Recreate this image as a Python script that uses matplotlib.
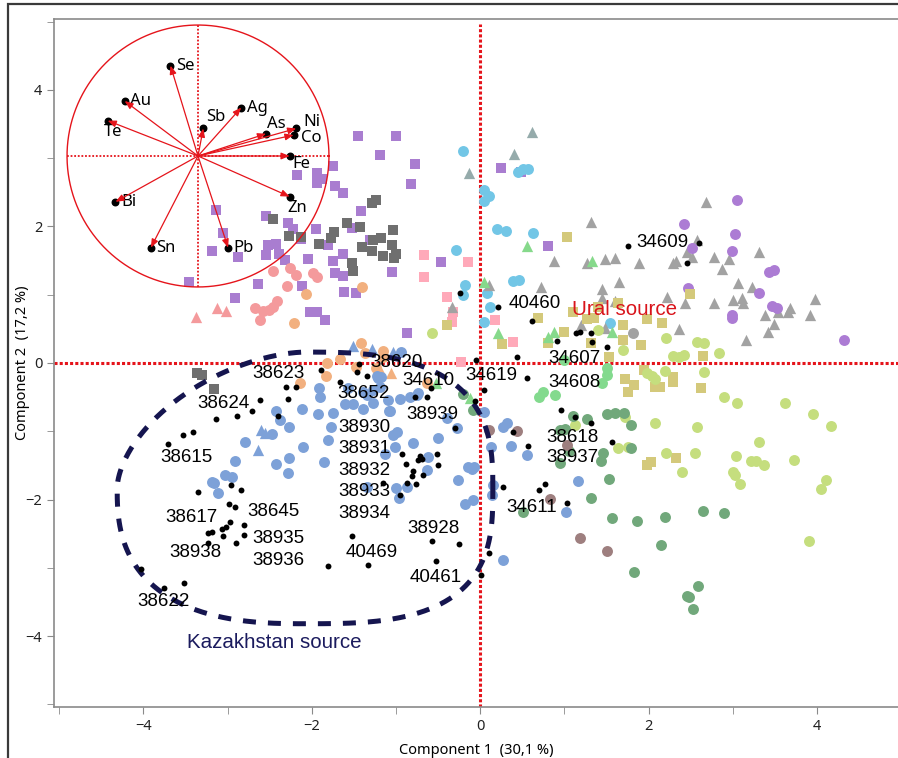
import numpy as np
import matplotlib.pyplot as plt
from matplotlib.patches import Rectangle

plt.rcParams["font.family"] = ["Liberation Sans", "DejaVu Sans"]

# Scores (Component 1, Component 2) par groupe de gisements
purple_sq_x = [-1.45, -1.00, -1.19, -0.78, -0.82, -1.75, -2.17, -1.94, -1.94, -1.88, -1.72, -1.63, -1.41,
               -3.14, -2.54, -2.28, -2.22, -1.95, -1.52, -3.05, -2.13, -2.52, -2.42, -2.39, -2.54, -2.87,
               -3.19, -1.81, -1.63, -1.31, -2.32, -2.04, -1.75, -1.72, -1.63, -1.05, -0.46, -2.64, -2.11,
               -1.62, -1.48, -3.46, -2.91, -2.02, -1.94, -1.84, -0.87, 0.25, 0.49, 0.80]
purple_sq_y = [3.33, 3.33, 3.05, 2.92, 2.62, 2.89, 2.76, 2.79, 2.64, 2.70, 2.60, 2.49, 2.23,
               2.24, 2.16, 2.05, 1.96, 1.96, 1.98, 1.91, 1.82, 1.73, 1.74, 1.60, 1.58, 1.55,
               1.64, 1.73, 1.60, 1.80, 1.51, 1.52, 1.50, 1.32, 1.28, 1.33, 1.48, 1.16, 1.13,
               1.04, 1.03, 1.19, 0.95, 0.75, 0.75, 0.63, 0.44, 2.86, 2.80, 1.72]

grey_sq_x = [-2.46, -2.27, -2.13, -1.91, -1.77, -1.73, -1.58, -1.43, -1.28, -1.24, -1.40, -1.27,
             -1.18, -1.28, -1.15, -1.05, -1.03, -1.00, -1.02, -1.52, -1.51, -3.36, -3.30, -3.16]
grey_sq_y = [2.11, 1.86, 1.85, 1.74, 1.83, 1.92, 2.05, 1.99, 2.35, 2.39, 1.70, 1.80,
             1.83, 1.64, 1.57, 1.73, 1.95, 1.60, 1.54, 1.47, 1.35, -0.15, -0.18, -0.38]

salmon_x = [-2.46, -2.26, -2.19, -2.29, -1.98, -1.94, -2.67, -2.58, -2.51, -2.46, -2.41, -2.62]
salmon_y = [1.35, 1.39, 1.29, 1.13, 1.32, 1.26, 0.81, 0.76, 0.78, 0.82, 0.91, 0.63]

salmon_tri_x = [-3.37, -3.12, -3.02]
salmon_tri_y = [0.67, 0.81, 0.76]

orange_x = [-2.07, -1.40, -2.21, -1.41, -1.37, -1.16, -1.15, -1.67, -1.82, -1.83, -1.48, -2.14, -0.63, -1.24]
orange_y = [1.01, 1.11, 0.59, 0.29, 0.15, 0.18, 0.09, 0.06, 0.00, -0.19, -0.06, -0.29, -0.29, -0.07]

orange_tri_x = [-1.06, -1.19]
orange_tri_y = [-0.15, -0.10]

pink_sq_x = [-0.67, -0.67, -0.15, -0.39, -0.32, -0.33, 0.18, 0.39, -0.23]
pink_sq_y = [1.58, 1.26, 1.48, 0.97, 0.75, 0.60, 0.63, 0.31, 0.01]

sky_x = [-0.20, 0.05, 0.11, 0.04, 0.20, 0.31, 0.63, 0.51, 0.57, 0.45, -0.29, -0.18, -0.20,
         0.08, 0.39, 0.46, 0.12, 0.04, 1.54]
sky_y = [3.11, 2.54, 2.45, 2.38, 1.96, 1.94, 1.91, 2.84, 2.84, 2.80, 1.66, 1.14, 1.00,
         1.03, 1.20, 1.22, 0.82, 0.60, 0.59]

teal_tri_x = [0.61, 0.40, -0.13]
teal_tri_y = [3.39, 3.06, 2.79]

blue_x = [-0.94, -1.18, -1.22, -1.39, -1.91, -1.90, -0.75, -2.11, -1.92, -1.75, -1.60, -1.51, -1.39,
          -1.27, -1.09, -1.08, -0.95, -1.34, -1.21, -1.19, -1.27, -1.57, -2.42, -2.38, -2.27, -1.77,
          -1.81, -2.47, -2.79, -2.10, -2.27, -2.42, -2.28, -1.86, -2.91, -3.03, -2.95, -3.19, -3.16,
          -3.11, -1.07, -1.03, -1.01, -1.13, -1.34, -1.00, -0.97, -0.99, -0.80, -0.62, -0.63, -0.87,
          -0.50, -0.39, -0.27, -0.14, -0.10, -0.07, -0.26, -0.18, -0.08, 0.04, 0.13, 0.15, 0.14,
          0.27, 0.27, 0.32, 0.36, 0.56, 1.16, 1.02, -0.74, -0.83]
blue_y = [0.16, -0.21, -0.19, -0.43, -0.37, -0.50, -0.47, -0.67, -0.75, -0.73, -0.60, -0.60, -0.67,
          -0.59, -0.54, -0.70, -0.53, -0.47, -0.22, -0.35, -0.40, -0.37, -0.70, -0.84, -0.94, -0.94,
          -1.13, -1.04, -1.16, -1.23, -1.39, -1.48, -1.61, -1.45, -1.44, -1.64, -1.67, -1.74, -1.76,
          -1.91, -0.70, -1.06, -1.23, -1.33, -1.82, -1.83, -1.98, -1.01, -1.17, -1.38, -1.57, -1.82,
          -1.10, -0.81, -0.95, -1.52, -1.55, -1.52, -1.72, -2.07, -2.01, -0.72, -1.23, -1.79, -1.94,
          -2.89, -0.94, -0.88, -1.22, -1.35, -1.73, -2.18, -0.44, -0.50]

blue_tri_x = [-1.51, -1.28, -1.03, -2.60, -2.55, -2.64]
blue_tri_y = [0.25, 0.21, 0.16, -0.98, -1.03, -1.28]

green_tri_x = [0.55, 1.33, 0.04, 0.21, 0.81, 0.88, 1.57, -0.53, -0.12]
green_tri_y = [1.72, 1.50, 1.19, 0.44, 0.38, 0.45, 0.45, -0.29, -0.51]

mint_x = [1.51, 1.51, 1.45, 0.75, 0.70, 0.89, 0.99]
mint_y = [-0.07, -0.18, -0.29, -0.43, -0.50, -0.47, 0.04]

grey_tri_x = [2.68, 1.32, 0.88, 1.27, 1.48, 1.60, 1.89, 2.29, 2.33, 2.45, 2.57, 2.51, 2.77, 2.95,
              2.87, 3.31, 3.06, 3.23, 0.72, 0.10, 1.45, 1.65, 1.45, 1.60, 2.22, 2.43, 2.77, 3.00,
              3.11, 3.12, 3.38, 3.49, 3.54, 3.65, 3.68, 3.97, 3.91, 3.42, 3.15, 2.36, 1.48, 1.20, -0.34]
grey_tri_y = [2.36, 2.07, 1.50, 1.47, 1.52, 1.54, 1.47, 1.47, 1.50, 1.63, 1.80, 1.55, 1.55, 1.52,
              1.38, 1.63, 1.17, 1.11, 1.11, 1.14, 1.09, 1.19, 0.95, 0.91, 0.97, 0.88, 0.88, 0.92,
              0.95, 0.88, 0.70, 0.57, 0.75, 0.75, 0.81, 0.94, 0.70, 0.45, 0.34, 0.50, 0.51, 0.56, 0.82]

violet_x = [3.05, 2.42, 3.02, 2.99, 2.52, 3.43, 3.49, 3.31, 2.47, 3.46, 3.52, 2.99, 2.99, 4.32]
violet_y = [2.39, 2.04, 1.89, 1.64, 1.69, 1.33, 1.36, 1.03, 1.10, 0.84, 0.81, 0.70, 0.66, 0.34]

khaki_x = [1.03, 0.69, -0.40, 0.26, 0.81, 0.99, 1.10, 1.27, 1.35, 1.32, 1.53, 1.63, 1.69, 1.69,
           1.91, 1.98, 2.16, 2.49, 2.64, 1.72, 1.83, 1.76, 1.94, 2.07, 2.14, 2.29, 2.29, 2.62,
           1.98, 2.03, 2.33, 1.40]
khaki_y = [1.85, 0.66, 0.56, 0.28, 0.29, 0.45, 0.75, 0.65, 0.66, 0.29, 0.09, 0.88, 0.56, 0.34,
           0.26, 0.65, 0.59, 1.01, 0.10, -0.23, -0.32, -0.43, -0.10, -0.35, -0.35, -0.21, -0.28, -0.37,
           -1.50, -1.45, -1.39, 0.82]

lime_x = [1.40, 2.21, 2.57, 2.66, 2.84, 2.29, 2.36, 2.42, 1.69, 1.98, 2.19, 2.07, 2.66, 2.04,
          2.89, 3.05, 3.62, 3.95, 4.16, 1.72, 2.07, 2.57, 3.31, 1.64, 1.75, 2.20, 2.55, 3.04,
          3.22, 3.27, 3.37, 3.73, 2.39, 3.00, 3.02, 3.09, 4.11, 4.04, 3.90, 1.13, -0.57]
lime_y = [0.48, 0.37, 0.31, 0.29, 0.15, 0.10, 0.09, 0.12, 0.19, -0.15, -0.12, -0.23, -0.13, -0.19,
          -0.50, -0.59, -0.59, -0.75, -0.92, -0.79, -0.88, -0.94, -1.16, -1.25, -1.23, -1.32, -1.32, -1.36,
          -1.44, -1.44, -1.50, -1.42, -1.60, -1.60, -1.64, -1.77, -1.72, -1.85, -2.61, -0.91, 0.44]

forest_x = [-0.20, -0.08, 0.95, 1.01, 1.06, 0.95, 1.10, 1.27, 1.50, 1.60, 1.71, 1.79, 1.79, 1.46,
            1.43, 1.53, 1.31, 1.57, 1.86, 2.19, 2.64, 2.90, 2.15, 1.83, 2.58, 2.45, 2.48, 2.53, 0.51]
forest_y = [-0.45, -0.69, -0.98, -0.97, -1.29, -1.47, -0.78, -0.82, -0.75, -0.73, -0.73, -0.91, -1.25, -1.32,
            -1.44, -1.70, -1.98, -2.27, -2.32, -2.26, -2.17, -2.20, -2.67, -3.06, -3.27, -3.42, -3.43, -3.61, -2.18]

brown_x = [0.10, 0.44, 1.03, 0.83, 1.18, 1.51]
brown_y = [-0.98, -1.00, -1.20, -1.99, -2.57, -2.76]

silver_x = [1.81]
silver_y = [0.44]

# Echantillons étudiés (points noirs)
sample_x = [-1.89, -2.30, -2.19, -1.66, -1.44, -1.46, -1.34, -2.28, -2.62, -2.71, -2.40, -2.89, -3.14,
            -3.41, -3.53, -3.71, -3.35, -2.96, -2.84, -2.98, -2.91, -2.97, -2.81, -2.81, -2.90, -3.23,
            -3.19, -3.23, -3.06, -3.05, -3.02, -4.03, -3.76, -3.52, -1.81, -1.52, -1.33, -1.16, -0.95,
            -0.78, -0.63, -0.58, -0.93, -0.88, -0.80, -0.81, -0.87, -0.76, -0.72, -0.74, -0.69, -0.68,
            -0.51, -0.50, -0.57, -0.53, -0.25, 0.11, 0.01, -0.30, 0.04, -0.06, -0.24, 0.21, 0.61, 0.91,
            -0.05, 0.44, 0.56, 0.27, 0.70, 0.77, 1.03, 0.39, 0.57, 0.96, 1.12, 1.32, 1.56, 1.14, 1.19,
            1.31, 1.33, 1.51, 1.75, 2.60, 2.46]
sample_y = [-0.10, -0.35, -0.35, -0.28, -0.01, -0.13, -0.19, -0.53, -0.54, -0.70, -0.78, -0.78, -0.82,
            -1.01, -1.06, -1.19, -1.89, -1.79, -1.86, -2.07, -2.11, -2.33, -2.38, -2.52, -2.64, -2.49,
            -2.48, -2.64, -2.43, -2.54, -2.40, -3.02, -3.30, -3.23, -2.98, -2.54, -2.96, -1.76, -1.94,
            -0.50, -0.50, -0.37, -1.33, -1.48, -1.58, -1.66, -1.76, -1.77, -1.36, -1.42, -1.41, -1.64,
            -1.33, -1.50, -2.61, -2.90, -2.65, -2.79, -3.11, -0.95, -0.40, -0.56, 1.03, 0.82, 0.62, 0.32,
            0.04, 0.09, -0.22, -1.82, -1.86, -1.77, -2.05, -1.01, -1.22, -0.69, -0.79, -0.88, -1.16, 0.44, 0.45,
            0.44, 0.31, 0.23, 1.72, 1.76, 1.47]

sample_ids = ["38620", "38623", "34610", "34619", "38652", "38624", "38939", "38930", "38931",
              "38932", "38933", "38934", "38615", "38617", "38645", "38935", "38936", "38938",
              "40469", "38622", "38928", "40461", "34611", "38618", "38937", "34607", "34608",
              "40460", "34609"]
id_pos = [(-1.31, 0.01), (-2.70, -0.15), (-0.93, -0.25), (-0.18, -0.18), (-1.70, -0.44), (-3.36, -0.59),
          (-0.88, -0.76), (-1.69, -0.95), (-1.69, -1.25), (-1.69, -1.57), (-1.69, -1.89), (-1.69, -2.20),
          (-3.80, -1.39), (-3.74, -2.26), (-2.76, -2.17), (-2.71, -2.57), (-2.71, -2.90), (-3.69, -2.77),
          (-1.60, -2.77), (-4.07, -3.50), (-0.87, -2.42), (-0.84, -3.15), (0.31, -2.11), (0.78, -1.09),
          (0.78, -1.39), (0.81, 0.07), (0.81, -0.28), (0.34, 0.87), (1.85, 1.76)]

# Cercle des corrélations
elements = ["Se", "Au", "Te", "Sb", "Ag", "As", "Ni", "Co", "Fe", "Zn", "Bi", "Sn", "Pb"]
load_x = [-0.21, -0.56, -0.69, 0.04, 0.33, 0.52, 0.75, 0.73, 0.70, 0.70, -0.63, -0.36, 0.23]
load_y = [0.69, 0.42, 0.27, 0.21, 0.37, 0.17, 0.21, 0.16, 0.00, -0.31, -0.35, -0.70, -0.70]
label_offset = [(4, 0), (4, 0), (-3, -8), (2, 8), (4, 0), (1, 7), (5, 5), (5, -2), (2, -6), (-2, -8),
                (4, 0), (4, 0), (4, 0)]

groups = [
    (purple_sq_x, purple_sq_y, "s", "#A97DD0", 48),
    (grey_sq_x, grey_sq_y, "s", "#6F6F6F", 48),
    (salmon_x, salmon_y, "o", "#F49A9C", 62),
    (salmon_tri_x, salmon_tri_y, "^", "#F49A9C", 66),
    (orange_x, orange_y, "o", "#F2B07F", 62),
    (orange_tri_x, orange_tri_y, "^", "#F2B07F", 66),
    (pink_sq_x, pink_sq_y, "s", "#FFA9B9", 48),
    (teal_tri_x, teal_tri_y, "^", "#95ABAB", 66),
    (sky_x, sky_y, "o", "#72C6E6", 62),
    (blue_x, blue_y, "o", "#7DA1D8", 62),
    (blue_tri_x, blue_tri_y, "^", "#7DA1D8", 66),
    (grey_tri_x, grey_tri_y, "^", "#A2A2A2", 66),
    (violet_x, violet_y, "o", "#AC7CD4", 62),
    (khaki_x, khaki_y, "s", "#D4C97B", 48),
    (lime_x, lime_y, "o", "#C5DE7E", 62),
    (forest_x, forest_y, "o", "#71A87B", 62),
    (brown_x, brown_y, "o", "#9E7F7F", 62),
    (silver_x, silver_y, "o", "#A2A2A2", 62),
    (mint_x, mint_y, "o", "#83DA8E", 62),
    (green_tri_x, green_tri_y, "^", "#86D98B", 66),
]

red = "#E5141B"
axis_font = ["Noto Sans", "DejaVu Sans"]

fig = plt.figure(figsize=(8.98, 7.58), dpi=100)
ax = fig.add_axes([54 / 898, 51 / 758, 844 / 898, 688 / 758])
ax.set_xlim(-5.06, 4.96)
ax.set_ylim(-5.04, 5.04)

for xs, ys, marker, color, size in groups:
    ax.scatter(xs, ys, marker=marker, s=size, color=color, linewidths=0, zorder=3)

# lignes de référence
ax.plot([0, 0], [-5.04, 4.96], color=red, lw=2.2, ls=(0, (1, 0.7)), zorder=2)
ax.axhline(0, color=red, lw=2.2, ls=(0, (1, 0.7)), zorder=2)

# contour Kazakhstan : super-ellipse dont l'exposant change selon le quadrant
t = np.linspace(0, 2 * np.pi, 600)
c, s = np.cos(t), np.sin(t)
expo = np.where(c >= 0, np.where(s >= 0, 2.8, 3.0), np.where(s >= 0, 1.7, 2.6))
cx, cy, a, b = -2.08, -1.83, 2.23, 1.99
ex = cx + a * np.sign(c) * np.abs(c) ** (2 / expo)
ey = cy + b * np.sign(s) * np.abs(s) ** (2 / expo)
ax.plot(ex, ey, color="#15154F", lw=3.6, ls=(0, (2.6, 2.4)), zorder=4)

ax.scatter(sample_x, sample_y, s=18, color="black", linewidths=0, zorder=5)

for sid, (lx, ly) in zip(sample_ids, id_pos):
    ax.text(lx, ly, sid, fontsize=13.5, ha="left", va="center", color="black", zorder=6)

ax.text(1.09, 0.78, "Ural source", fontsize=14.8, color="#D9141B", ha="left", va="center", zorder=6)
ax.text(-3.48, -4.09, "Kazakhstan source", fontsize=14.8, color="#1B1B5E", ha="left", va="center", zorder=6)

# axes
ax.set_xticks([-4, -2, 0, 2, 4])
ax.set_xticks([-5, -3, -1, 1, 3], minor=True)
ax.set_yticks([-4, -2, 0, 2, 4])
ax.set_yticks([-5, -3, -1, 1, 3, 5], minor=True)
ax.tick_params(which="both", length=5, color="#8A8A8A", labelsize=10.5, labelcolor="#222222")
for lab in ax.get_xticklabels() + ax.get_yticklabels():
    lab.set_family(axis_font)
for side in ["left", "bottom", "top"]:
    ax.spines[side].set_color("#8A8A8A")
    ax.spines[side].set_linewidth(1.2)
ax.spines["right"].set_visible(False)
ax.set_xlabel("Component 1  (30,1 %)", fontsize=10.5, family=axis_font)
ax.set_ylabel("Component 2  (17,2 %)", fontsize=10.5, family=axis_font)
ax.xaxis.set_label_coords(0.5, -0.052)
ax.yaxis.set_label_coords(-0.029, 0.5)

# cercle des corrélations en encart
ins = fig.add_axes([58 / 898, 1 - 296 / 758, 280 / 898, 280 / 758])
ins.set_xlim(-1.069, 1.069)
ins.set_ylim(-1.069, 1.069)
ins.axis("off")
ins.patch.set_alpha(0)
ang = np.linspace(0, 2 * np.pi, 300)
ins.plot(np.cos(ang), np.sin(ang), color=red, lw=1.0)
ins.plot([-1, 1], [0, 0], color=red, lw=1.3, ls=(0, (1, 1)))
ins.plot([0, 0], [-1, 1], color=red, lw=1.3, ls=(0, (1, 1)))
ins.scatter(load_x, load_y, s=22, color="black", zorder=3)
for el, lx, ly, off in zip(elements, load_x, load_y, label_offset):
    ins.annotate("", xy=(lx, ly), xytext=(0, 0),
                 arrowprops=dict(arrowstyle="-|>,head_length=0.5,head_width=0.2", color=red, lw=0.9,
                                 shrinkA=0, shrinkB=0), zorder=4)
    ins.annotate(el, xy=(lx, ly), xytext=off, textcoords="offset points", fontsize=12,
                 family=axis_font, ha="left", va="center")

fig.add_artist(Rectangle((8 / 898, -0.05), 1.2, 1.05 - 4 / 758, transform=fig.transFigure,
                         fill=False, ec="#3A3A3A", lw=1.6))

fig.savefig("out.png", dpi=100)
